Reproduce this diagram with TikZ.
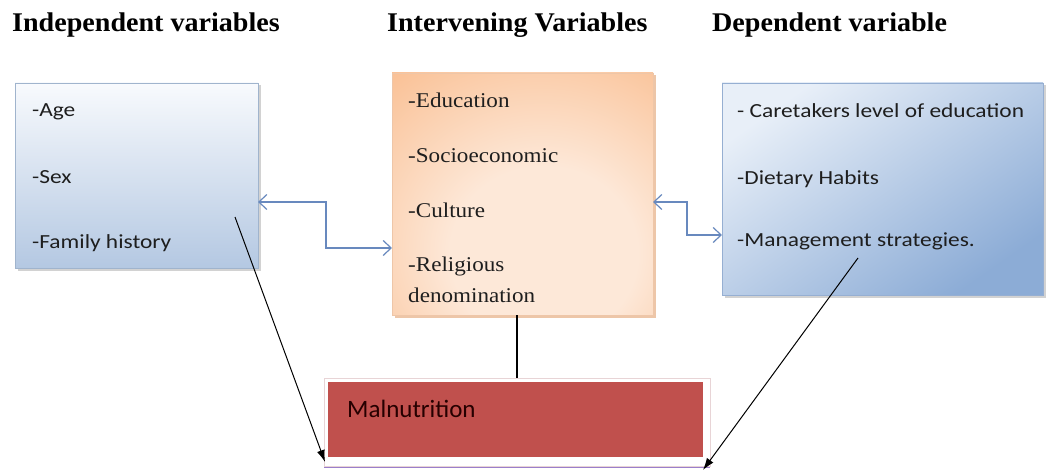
\documentclass[tikz,border=0pt]{standalone}
\usepackage{fontspec}
\setmainfont{Liberation Serif}
\newfontfamily\calib{Carlito}
\usepackage{graphicx}
\usetikzlibrary{arrows.meta,shadows,calc}
\definecolor{connblue}{RGB}{104,137,190}
\definecolor{lboxtop}{RGB}{248,250,253}
\definecolor{lboxbot}{RGB}{180,200,226}
\definecolor{lboxedge}{RGB}{160,180,205}
\definecolor{oraout}{RGB}{249,186,138}
\definecolor{oramid}{RGB}{253,232,216}
\definecolor{oraedge}{RGB}{226,160,110}
\definecolor{rboxlight}{RGB}{232,239,248}
\definecolor{rboxdark}{RGB}{140,172,214}
\definecolor{rboxedge}{RGB}{150,175,210}
\definecolor{malred}{RGB}{192,80,77}
\definecolor{frameedge}{RGB}{232,212,214}
\definecolor{txtdark}{RGB}{30,30,30}
\pgfdeclareradialshading{oragrad}{\pgfpoint{5bp}{-15bp}}{color(0bp)=(oramid); color(18bp)=(oramid); color(48bp)=(oraout); color(100bp)=(oraout)}
\begin{document}
\begin{tikzpicture}[x=1pt,y=-1pt,
  boxbase/.style={inner sep=0pt,outer sep=0pt,anchor=north west},
  lbox/.style={boxbase,draw=lboxedge,line width=0.8pt,top color=lboxtop,bottom color=lboxbot,
    drop shadow={shadow xshift=2.5pt,shadow yshift=-2.5pt,opacity=0.35}},
  mbox/.style={boxbase,draw=oraedge!60,line width=0.6pt,shading=oragrad,
    drop shadow={shadow xshift=2.5pt,shadow yshift=-2.5pt,fill=oraedge,opacity=0.6}},
  rbox/.style={boxbase,draw=rboxedge,line width=0.6pt,top color=rboxlight,bottom color=rboxdark,shading angle=35,
    drop shadow={shadow xshift=2.5pt,shadow yshift=-2.5pt,opacity=0.35}},
  fbox/.style={boxbase,draw=frameedge,line width=0.8pt,fill=white,
    drop shadow={shadow xshift=0pt,shadow yshift=-2pt,fill=black!45!red!40!blue,opacity=0.5}},
  redbox/.style={boxbase,fill=malred},
  head/.style={anchor=base west,inner sep=0pt,font=\bfseries\fontsize{27}{32}\selectfont,text=black},
  sanslbl/.style={anchor=base west,inner sep=0pt,font=\calib\fontsize{20}{24}\selectfont,text=txtdark},
  seriflbl/.style={anchor=base west,inner sep=0pt,font=\fontsize{21}{25}\selectfont,text=txtdark},
  mallbl/.style={anchor=base west,inner sep=0pt,font=\calib\fontsize{25}{30}\selectfont,text=black!85!red},
  bconn/.style={draw=connblue,line width=1.2pt,
    {Straight Barb[length=8pt,width=15pt]}-{Straight Barb[length=8pt,width=15pt]}},
  blk/.style={draw=black,line width=1pt,-{Latex[length=12pt,width=8pt]}},
  blkline/.style={draw=black,line width=1.1pt}
]
\useasboundingbox[fill=white] (0,0) rectangle (1055,473);

% headings
\node[head] (h1) at (12,32) {\scalebox{1.04}[1]{Independent variables}};
\node[head] (h2) at (387,32) {\scalebox{1.04}[1]{Intervening Variables}};
\node[head] (h3) at (712,32) {\scalebox{1.04}[1]{Dependent variable}};

% boxes
\node[lbox,minimum width=243pt,minimum height=185pt] (L) at (15,83) {};
\node[mbox,minimum width=261pt,minimum height=242pt] (M) at (392,73) {};
\node[rbox,minimum width=321pt,minimum height=212pt] (R) at (722,83) {};
\node[fbox,minimum width=386pt,minimum height=88pt] (F) at (324,378) {};
\node[redbox,minimum width=375pt,minimum height=75pt] (Red) at (328,382) {};

% left texts
\node[sanslbl] (l1) at (32,117) {\scalebox{1.17}[1]{-Age}};
\node[sanslbl] (l2) at (32,184) {\scalebox{1.17}[1]{-Sex}};
\node[sanslbl] (l3) at (32,249) {\scalebox{1.17}[1]{-Family history}};

% middle texts
\node[seriflbl] (m1) at (408,108) {\scalebox{1.1}[1]{-Education}};
\node[seriflbl] (m2) at (408,163) {\scalebox{1.1}[1]{-Socioeconomic}};
\node[seriflbl] (m3) at (408,218) {\scalebox{1.1}[1]{-Culture}};
\node[seriflbl] (m4) at (408,272) {\scalebox{1.1}[1]{-Religious}};
\node[seriflbl] (m5) at (408,302) {\scalebox{1.1}[1]{denomination}};

% right texts
\node[sanslbl] (r1) at (737,118) {\scalebox{1.17}[1]{- Caretakers level of education}};
\node[sanslbl] (r2) at (737,185) {\scalebox{1.17}[1]{-Dietary Habits}};
\node[sanslbl] (r3) at (737,247) {\scalebox{1.17}[1]{-Management strategies.}};

% malnutrition
\node[mallbl] (mal) at (347,417) {Malnutrition};

% blue connectors
\draw[bconn] ([yshift=-26.5pt]L.east) -- (326,202) |- ([yshift=-54pt]M.west);
\draw[bconn] ([yshift=-8pt]M.east) -- (687,202) |- ([yshift=-46pt]R.west);

% black connectors
\draw[blkline] ([xshift=-5.5pt]M.south) -- ([xshift=-5.5pt]M.south |- F.north);
\coordinate (ls) at (235,217);
\coordinate (rs) at (858,258);
\draw[blk] (ls) -- ([xshift=1pt,yshift=4pt]F.south west);
\draw[blk] (rs) -- ([xshift=-7pt,yshift=-4pt]F.south east);
\end{tikzpicture}
\end{document}
